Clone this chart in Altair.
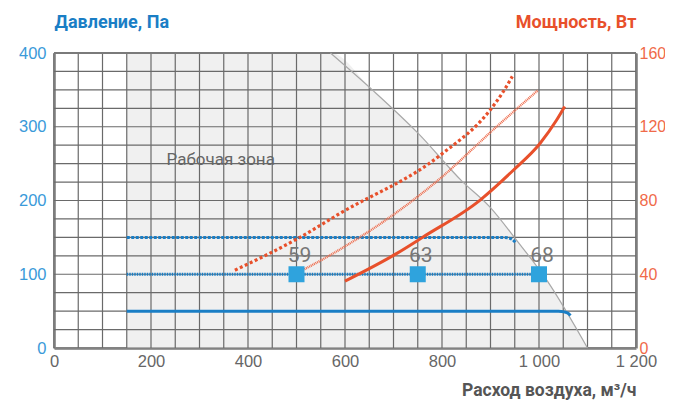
import altair as alt
import pandas as pd

# ---------------- data ----------------
# Working zone boundary (air flow m3/h, pressure Pa)
zone_q = [150, 570, 658, 751, 840, 899, 954, 1016, 1100]
zone_p = [400, 400, 349, 291, 227, 191, 146, 92, 0]

# Pressure curves (Pa)
p50_q = [150, 1040, 1052, 1060, 1065]
p50_p = [50, 50, 49, 47, 44]
p100_q = [150, 1000]
p100_p = [100, 100]
p150_q = [150, 920, 935, 945, 953]
p150_p = [150, 150, 149.5, 147, 142]

# Power curves (W)
w_solid_q = [600, 706, 761, 878, 947, 1002, 1036, 1053]
w_solid_w = [36.3, 51.2, 60.2, 80.1, 96.4, 110.9, 123.5, 131]
w_fine_q = [500, 569, 796, 912, 998]
w_fine_w = [40.5, 50.3, 91.9, 119.9, 139.8]
w_dots_q = [373, 507, 589, 796, 899, 926, 945]
w_dots_w = [42.2, 60, 72.9, 104.5, 129, 138.9, 147.3]

# Sound level markers
mark_q = [500, 750, 1000]
mark_p = [100, 100, 100]
mark_lbl = ["59", "63", "68"]

zone_label = "Рабочая зона"
zone_label_q = [232]
zone_label_p = [248]

x_ticks = [0, 200, 400, 600, 800, 1000, 1200]
left_ticks = [0, 100, 200, 300, 400]
right_ticks = [0, 40, 80, 120, 160]
grid_x = list(range(0, 1201, 50))
grid_y = list(range(0, 401, 25))

BLUE = "#1a7ec5"
MARK_BLUE = "#2fa3dd"
RED = "#e8502b"
NUM_FONT = "Liberation Sans"
NARROW = "Roboto"

xs = alt.Scale(domain=[0, 1200], nice=False, zero=False)
ps = alt.Scale(domain=[0, 400], nice=False)
ws = alt.Scale(domain=[0, 160], nice=False)

x_axis = alt.Axis(
    values=x_ticks, grid=False, ticks=False, domainColor="#9a9a9a", domainWidth=3,
    labelColor="#666", labelFont=NUM_FONT, labelFontSize=16.5, labelPadding=5,
    labelExpr="datum.value >= 1000 ? '1 ' + (datum.value % 1000 == 0 ? '000' : datum.value % 1000) : datum.value",
    title="Расход воздуха, м³/ч", titleFont=NARROW, titleFontSize=17.5, titleFontWeight="bold",
    titleColor="#555", titleAnchor="end", titleAlign="right", titleX=582, titleY=42,
    titleBaseline="middle", labelFlush=False,
)
left_axis = alt.Axis(
    values=left_ticks, grid=False, ticks=False, domainColor="#9a9a9a", domainWidth=3,
    labelColor="#3a9ad9", labelFont=NUM_FONT, labelFontSize=16.5, labelPadding=8,
    title="Давление, Па", titleFont=NARROW, titleFontSize=18, titleFontWeight="bold",
    titleColor=BLUE, titleAngle=0, titleAlign="left", titleX=0, titleY=-31,
    titleBaseline="middle", labelFlush=False,
)
right_axis = alt.Axis(
    values=right_ticks, grid=False, ticks=False, domainColor="#9a9a9a", domainWidth=3,
    labelColor="#f06a49", labelFont=NUM_FONT, labelFontSize=16, labelPadding=3,
    title="Мощность, Вт", titleFont=NARROW, titleFontSize=18, titleFontWeight="bold",
    titleColor=RED, titleAngle=0, titleAlign="right", titleX=0, titleY=-31,
    titleBaseline="middle", orient="right", labelFlush=False,
)

# ---------------- tables ----------------
zone_df = pd.DataFrame({"q": zone_q, "p": zone_p})
zone_line_df = zone_df.iloc[1:]
gx_df = pd.DataFrame({"q": grid_x})
gy_df = pd.DataFrame({"p": grid_y})
top_df = pd.DataFrame({"p": [grid_y[-1]]})


def pline(qs, pv):
    return pd.DataFrame({"q": qs, "p": pv})


def wline(qs, wv):
    return pd.DataFrame({"q": qs, "w": wv})


area = alt.Chart(zone_df).mark_area(color="#f0f0f0", interpolate="monotone").encode(
    x=alt.X("q:Q", scale=xs, axis=x_axis),
    y=alt.Y("p:Q", scale=ps, axis=left_axis),
    y2=alt.datum(0),
)
zone_line = alt.Chart(zone_line_df).mark_line(color="#a8a8a8", strokeWidth=1.2, interpolate="monotone").encode(
    x=alt.X("q:Q", scale=xs), y=alt.Y("p:Q", scale=ps)
)
grid_v = alt.Chart(gx_df).mark_rule(color="#6a6a6a", strokeWidth=1.2).encode(x=alt.X("q:Q", scale=xs))
grid_h = alt.Chart(gy_df).mark_rule(color="#6a6a6a", strokeWidth=1.2).encode(y=alt.Y("p:Q", scale=ps))
top_line = alt.Chart(top_df).mark_rule(color="#7a7a7a", strokeWidth=2).encode(y=alt.Y("p:Q", scale=ps))
zone_text = alt.Chart(pd.DataFrame({"q": zone_label_q, "p": zone_label_p, "t": [zone_label]})).mark_text(
    align="left", baseline="alphabetic", font=NARROW, fontSize=17, color="#666"
).encode(x=alt.X("q:Q", scale=xs), y=alt.Y("p:Q", scale=ps), text="t:N")

b50 = alt.Chart(pline(p50_q, p50_p)).mark_line(color=BLUE, strokeWidth=3, interpolate="monotone").encode(
    x=alt.X("q:Q", scale=xs), y=alt.Y("p:Q", scale=ps))
b100 = alt.Chart(pline(p100_q, p100_p)).mark_line(color=BLUE, strokeWidth=3, strokeDash=[1.5, 1]).encode(
    x=alt.X("q:Q", scale=xs), y=alt.Y("p:Q", scale=ps))
b150 = alt.Chart(pline(p150_q, p150_p)).mark_line(color=BLUE, strokeWidth=3, strokeDash=[3, 1.5], interpolate="monotone").encode(
    x=alt.X("q:Q", scale=xs), y=alt.Y("p:Q", scale=ps))

blue_group = alt.layer(area, grid_v, grid_h, top_line, zone_line, zone_text, b50, b100, b150)

r_solid = alt.Chart(wline(w_solid_q, w_solid_w)).mark_line(color=RED, strokeWidth=3, interpolate="monotone").encode(
    x=alt.X("q:Q", scale=xs), y=alt.Y("w:Q", scale=ws, axis=right_axis))
r_fine = alt.Chart(wline(w_fine_q, w_fine_w)).mark_line(color="#ee6a4a", strokeWidth=2.4, strokeDash=[1, 0.8], interpolate="monotone").encode(
    x=alt.X("q:Q", scale=xs), y=alt.Y("w:Q", scale=ws))
r_dots = alt.Chart(wline(w_dots_q, w_dots_w)).mark_line(color=RED, strokeWidth=3.2, strokeDash=[3, 2.5], interpolate="monotone").encode(
    x=alt.X("q:Q", scale=xs), y=alt.Y("w:Q", scale=ws))

red_group = alt.layer(r_solid, r_fine, r_dots)

mk_df = pd.DataFrame({"q": mark_q, "p": mark_p, "t": mark_lbl})
markers = alt.Chart(mk_df).mark_square(size=256, color=MARK_BLUE, opacity=1).encode(
    x=alt.X("q:Q", scale=xs), y=alt.Y("p:Q", scale=ps, axis=None))
mk_text = alt.Chart(mk_df).mark_text(font=NARROW, fontSize=21, color="#777", dy=-18, dx=3, baseline="middle").encode(
    x=alt.X("q:Q", scale=xs), y=alt.Y("p:Q", scale=ps, axis=None), text="t:N")
mark_group = alt.layer(markers, mk_text)

chart = alt.layer(blue_group, red_group, mark_group).resolve_scale(y="independent").properties(
    width=582, height=295,
    autosize=alt.AutoSizeParams(type="none"),
    padding={"left": 46, "top": 45, "right": 29, "bottom": 55},
    background="white",
).configure_view(stroke=None)

chart.save("out.html", embed_options={"renderer": "svg", "actions": False})
